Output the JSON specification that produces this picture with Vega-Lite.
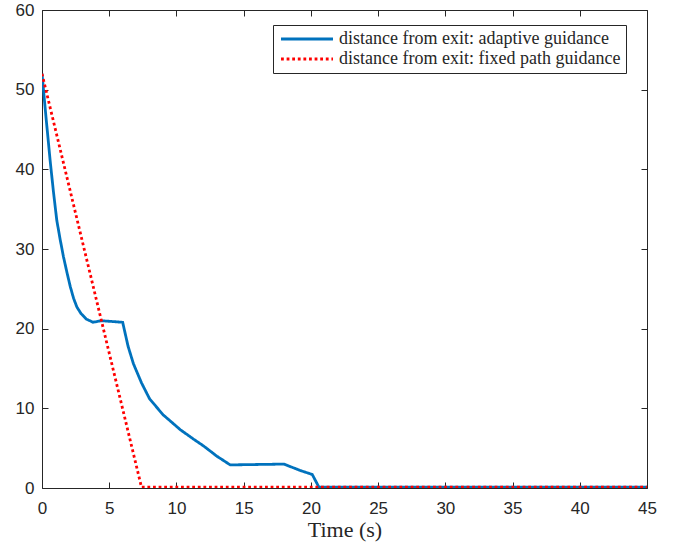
{
  "$schema": "https://vega.github.io/schema/vega-lite/v6.json",
  "autosize": {"type": "none"},
  "padding": {"left": 42, "top": 10, "right": 32, "bottom": 60},
  "width": 605,
  "height": 478,
  "background": "white",
  "config": {
    "view": {"stroke": "#262626", "strokeWidth": 1},
    "axis": {"grid": false, "domain": false, "tickColor": "#262626", "labelColor": "#262626", "labelFont": "Liberation Sans", "labelFontSize": 17, "labelFlush": false, "titleFont": "Liberation Serif", "titleFontSize": 22, "titleFontWeight": "normal", "titleColor": "#262626", "tickSize": -6, "tickWidth": 1},
    "legend": {"orient": "none", "legendX": 231, "legendY": 15, "strokeColor": "#262626", "fillColor": "white", "padding": 5, "labelFont": "Liberation Serif", "labelFontSize": 18, "labelColor": "#262626", "symbolType": "M-5,0H5", "symbolSize": 108, "symbolStrokeWidth": 2.8, "symbolOffset": 20, "rowPadding": 2, "labelOffset": 23, "labelLimit": 400}
  },
  "data": {"values": [
    {"t": 0, "d": 52, "series": "distance from exit: adaptive guidance"},
    {"t": 0.3, "d": 46.5, "series": "distance from exit: adaptive guidance"},
    {"t": 0.6, "d": 41.2, "series": "distance from exit: adaptive guidance"},
    {"t": 0.85, "d": 37.2, "series": "distance from exit: adaptive guidance"},
    {"t": 1.1, "d": 33.6, "series": "distance from exit: adaptive guidance"},
    {"t": 1.35, "d": 31.2, "series": "distance from exit: adaptive guidance"},
    {"t": 1.6, "d": 29.0, "series": "distance from exit: adaptive guidance"},
    {"t": 1.85, "d": 27.1, "series": "distance from exit: adaptive guidance"},
    {"t": 2.1, "d": 25.3, "series": "distance from exit: adaptive guidance"},
    {"t": 2.35, "d": 23.8, "series": "distance from exit: adaptive guidance"},
    {"t": 2.6, "d": 22.7, "series": "distance from exit: adaptive guidance"},
    {"t": 2.9, "d": 21.9, "series": "distance from exit: adaptive guidance"},
    {"t": 3.3, "d": 21.2, "series": "distance from exit: adaptive guidance"},
    {"t": 3.8, "d": 20.8, "series": "distance from exit: adaptive guidance"},
    {"t": 4.4, "d": 21.0, "series": "distance from exit: adaptive guidance"},
    {"t": 6.0, "d": 20.8, "series": "distance from exit: adaptive guidance"},
    {"t": 6.4, "d": 17.8, "series": "distance from exit: adaptive guidance"},
    {"t": 6.8, "d": 15.6, "series": "distance from exit: adaptive guidance"},
    {"t": 7.4, "d": 13.2, "series": "distance from exit: adaptive guidance"},
    {"t": 8.0, "d": 11.2, "series": "distance from exit: adaptive guidance"},
    {"t": 9.0, "d": 9.2, "series": "distance from exit: adaptive guidance"},
    {"t": 10.3, "d": 7.3, "series": "distance from exit: adaptive guidance"},
    {"t": 11.3, "d": 6.1, "series": "distance from exit: adaptive guidance"},
    {"t": 12.0, "d": 5.3, "series": "distance from exit: adaptive guidance"},
    {"t": 13.0, "d": 4.0, "series": "distance from exit: adaptive guidance"},
    {"t": 14.0, "d": 2.9, "series": "distance from exit: adaptive guidance"},
    {"t": 18.0, "d": 3.0, "series": "distance from exit: adaptive guidance"},
    {"t": 19.2, "d": 2.2, "series": "distance from exit: adaptive guidance"},
    {"t": 20.1, "d": 1.7, "series": "distance from exit: adaptive guidance"},
    {"t": 20.6, "d": 0.1, "series": "distance from exit: adaptive guidance"},
    {"t": 45, "d": 0.1, "series": "distance from exit: adaptive guidance"},
    {"t": 0, "d": 52, "series": "distance from exit: fixed path guidance"},
    {"t": 7.4, "d": 0.1, "series": "distance from exit: fixed path guidance"},
    {"t": 45, "d": 0.1, "series": "distance from exit: fixed path guidance"}
  ]},
  "layer": [
    {
      "mark": {"type": "line", "strokeWidth": 2.8, "clip": true},
      "encoding": {
        "x": {"field": "t", "type": "quantitative", "title": "Time (s)", "scale": {"domain": [0, 45], "nice": false, "zero": false}, "axis": {"values": [0,5,10,15,20,25,30,35,40,45], "labelPadding": 18, "titlePadding": 3}},
        "y": {"field": "d", "type": "quantitative", "title": null, "scale": {"domain": [0, 60], "nice": false}, "axis": {"values": [0,10,20,30,40,50,60], "labelPadding": 14}},
        "color": {"field": "series", "type": "nominal", "title": null,
          "scale": {"domain": ["distance from exit: adaptive guidance", "distance from exit: fixed path guidance"], "range": ["#0072BD", "#FF0000"]}},
        "strokeDash": {"field": "series", "type": "nominal", "title": null,
          "scale": {"domain": ["distance from exit: adaptive guidance", "distance from exit: fixed path guidance"], "range": [[1, 0], [2.8, 2.8]]}}
      }
    },
    {
      "mark": {"type": "point", "opacity": 0},
      "encoding": {
        "x": {"field": "t", "type": "quantitative", "scale": {"domain": [0, 45], "nice": false, "zero": false}, "axis": {"orient": "top", "values": [0,5,10,15,20,25,30,35,40,45], "labels": false, "title": null}},
        "y": {"field": "d", "type": "quantitative", "scale": {"domain": [0, 60], "nice": false}, "axis": {"orient": "right", "values": [0,10,20,30,40,50,60], "labels": false, "title": null}}
      }
    }
  ],
  "resolve": {"axis": {"x": "independent", "y": "independent"}}
}
